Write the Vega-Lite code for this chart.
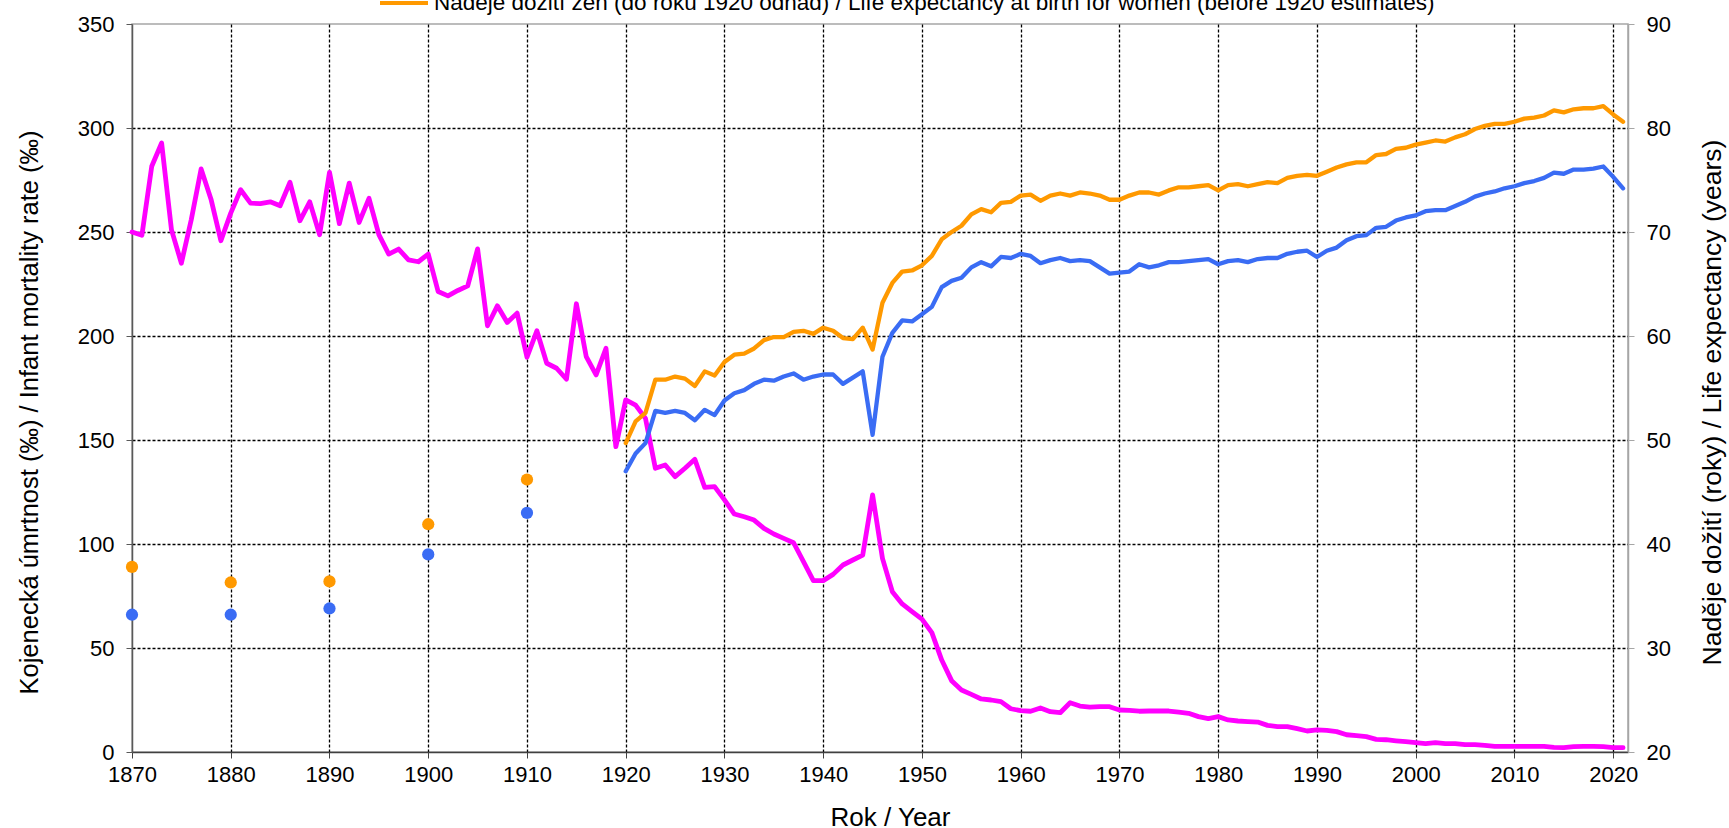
{
  "$schema": "https://vega.github.io/schema/vega-lite/v6.json",
  "width": 1496,
  "height": 728,
  "autosize": {"type": "none"},
  "padding": {"left": 132, "top": 24, "right": 101, "bottom": 76},
  "background": "white",
  "config": {
    "font": "Liberation Sans",
    "view": {"stroke": "#a6a6a6", "strokeWidth": 1.5},
    "axis": {"labelFont": "Liberation Sans", "titleFont": "Liberation Sans", "labelColor": "#000000", "titleColor": "#000000", "labelFontSize": 22, "titleFontSize": 26, "titleFontWeight": "normal", "tickSize": 6},
    "legend": {"labelFont": "Liberation Sans", "labelFontSize": 22.5, "labelColor": "#000000", "labelLimit": 0}
  },
  "datasets": {
    "imr": [
      {"year":1870,"v":250},{"year":1871,"v":248.4},{"year":1872,"v":281.6},{"year":1873,"v":292.8},{"year":1874,"v":251},{"year":1875,"v":235},{"year":1876,"v":255.9},{"year":1877,"v":280.3},{"year":1878,"v":265.8},{"year":1879,"v":245.8},
      {"year":1880,"v":259.1},{"year":1881,"v":270.3},{"year":1882,"v":263.9},{"year":1883,"v":263.6},{"year":1884,"v":264.5},{"year":1885,"v":262.6},{"year":1886,"v":273.9},{"year":1887,"v":255.4},{"year":1888,"v":264.5},{"year":1889,"v":248.7},
      {"year":1890,"v":278.7},{"year":1891,"v":254},{"year":1892,"v":273.5},{"year":1893,"v":254.6},{"year":1894,"v":266.2},{"year":1895,"v":248.7},{"year":1896,"v":239.4},{"year":1897,"v":241.8},{"year":1898,"v":236.6},{"year":1899,"v":235.7},
      {"year":1900,"v":239.4},{"year":1901,"v":221.4},{"year":1902,"v":219.3},{"year":1903,"v":221.9},{"year":1904,"v":224.1},{"year":1905,"v":241.9},{"year":1906,"v":204.9},{"year":1907,"v":214.5},{"year":1908,"v":206.5},{"year":1909,"v":211},
      {"year":1910,"v":189.8},{"year":1911,"v":202.5},{"year":1912,"v":186.9},{"year":1913,"v":184.5},{"year":1914,"v":179.2},{"year":1915,"v":215.5},{"year":1916,"v":190.1},{"year":1917,"v":181.3},{"year":1918,"v":194.1},{"year":1919,"v":146.8},
      {"year":1920,"v":169.3},{"year":1921,"v":166.8},{"year":1922,"v":160.4},{"year":1923,"v":136.4},{"year":1924,"v":138.0},{"year":1925,"v":132.4},{"year":1926,"v":136.4},{"year":1927,"v":140.7},{"year":1928,"v":127.2},{"year":1929,"v":127.6},
      {"year":1930,"v":121.2},{"year":1931,"v":114.4},{"year":1932,"v":113.1},{"year":1933,"v":111.5},{"year":1934,"v":107.5},{"year":1935,"v":104.8},{"year":1936,"v":102.7},{"year":1937,"v":100.6},{"year":1938,"v":91.5},{"year":1939,"v":82.4},
      {"year":1940,"v":82.4},{"year":1941,"v":85.4},{"year":1942,"v":89.9},{"year":1943,"v":92.3},{"year":1944,"v":94.7},{"year":1945,"v":123.6},{"year":1946,"v":93.1},{"year":1947,"v":77.1},{"year":1948,"v":71.2},{"year":1949,"v":67.5},
      {"year":1950,"v":63.9},{"year":1951,"v":57.4},{"year":1952,"v":44.2},{"year":1953,"v":34.3},{"year":1954,"v":29.8},{"year":1955,"v":27.7},{"year":1956,"v":25.5},{"year":1957,"v":25.0},{"year":1958,"v":24.2},{"year":1959,"v":20.8},
      {"year":1960,"v":19.9},{"year":1961,"v":19.6},{"year":1962,"v":21.2},{"year":1963,"v":19.4},{"year":1964,"v":18.9},{"year":1965,"v":23.7},{"year":1966,"v":22.1},{"year":1967,"v":21.6},{"year":1968,"v":21.8},{"year":1969,"v":21.8},
      {"year":1970,"v":20.2},{"year":1971,"v":20.0},{"year":1972,"v":19.6},{"year":1973,"v":19.7},{"year":1974,"v":19.7},{"year":1975,"v":19.7},{"year":1976,"v":19.2},{"year":1977,"v":18.6},{"year":1978,"v":17.0},{"year":1979,"v":16.0},
      {"year":1980,"v":17.0},{"year":1981,"v":15.4},{"year":1982,"v":14.9},{"year":1983,"v":14.6},{"year":1984,"v":14.4},{"year":1985,"v":12.8},{"year":1986,"v":12.2},{"year":1987,"v":12.2},{"year":1988,"v":11.2},{"year":1989,"v":10.1},
      {"year":1990,"v":10.6},{"year":1991,"v":10.4},{"year":1992,"v":9.8},{"year":1993,"v":8.3},{"year":1994,"v":7.9},{"year":1995,"v":7.4},{"year":1996,"v":6.1},{"year":1997,"v":5.9},{"year":1998,"v":5.4},{"year":1999,"v":5.0},
      {"year":2000,"v":4.5},{"year":2001,"v":4.0},{"year":2002,"v":4.5},{"year":2003,"v":4.0},{"year":2004,"v":4.0},{"year":2005,"v":3.5},{"year":2006,"v":3.5},{"year":2007,"v":3.2},{"year":2008,"v":2.7},{"year":2009,"v":2.7},
      {"year":2010,"v":2.7},{"year":2011,"v":2.7},{"year":2012,"v":2.7},{"year":2013,"v":2.7},{"year":2014,"v":2.2},{"year":2015,"v":2.1},{"year":2016,"v":2.6},{"year":2017,"v":2.7},{"year":2018,"v":2.7},{"year":2019,"v":2.6},
      {"year":2020,"v":2.1},{"year":2021,"v":2.1}
    ],
    "le": [
      {"year":1920,"m":47.0,"f":49.7},{"year":1921,"m":48.7,"f":51.8},{"year":1922,"m":49.7,"f":52.6},{"year":1923,"m":52.8,"f":55.8},{"year":1924,"m":52.6,"f":55.8},{"year":1925,"m":52.8,"f":56.1},{"year":1926,"m":52.6,"f":55.9},{"year":1927,"m":51.9,"f":55.2},{"year":1928,"m":52.9,"f":56.6},{"year":1929,"m":52.4,"f":56.2},
      {"year":1930,"m":53.8,"f":57.5},{"year":1931,"m":54.5,"f":58.2},{"year":1932,"m":54.8,"f":58.3},{"year":1933,"m":55.4,"f":58.8},{"year":1934,"m":55.8,"f":59.6},{"year":1935,"m":55.7,"f":59.9},{"year":1936,"m":56.1,"f":59.9},{"year":1937,"m":56.4,"f":60.4},{"year":1938,"m":55.8,"f":60.5},{"year":1939,"m":56.1,"f":60.2},
      {"year":1940,"m":56.3,"f":60.8},{"year":1941,"m":56.3,"f":60.5},{"year":1942,"m":55.4,"f":59.8},{"year":1943,"m":56.0,"f":59.7},{"year":1944,"m":56.6,"f":60.8},{"year":1945,"m":50.5,"f":58.7},{"year":1946,"m":58.0,"f":63.2},{"year":1947,"m":60.3,"f":65.1},{"year":1948,"m":61.5,"f":66.2},{"year":1949,"m":61.4,"f":66.3},
      {"year":1950,"m":62.1,"f":66.8},{"year":1951,"m":62.8,"f":67.7},{"year":1952,"m":64.7,"f":69.3},{"year":1953,"m":65.3,"f":70.0},{"year":1954,"m":65.6,"f":70.6},{"year":1955,"m":66.6,"f":71.7},{"year":1956,"m":67.1,"f":72.2},{"year":1957,"m":66.7,"f":71.9},{"year":1958,"m":67.6,"f":72.8},{"year":1959,"m":67.5,"f":72.9},
      {"year":1960,"m":67.9,"f":73.5},{"year":1961,"m":67.7,"f":73.6},{"year":1962,"m":67.0,"f":73.0},{"year":1963,"m":67.3,"f":73.5},{"year":1964,"m":67.5,"f":73.7},{"year":1965,"m":67.2,"f":73.5},{"year":1966,"m":67.3,"f":73.8},{"year":1967,"m":67.2,"f":73.7},{"year":1968,"m":66.6,"f":73.5},{"year":1969,"m":66.0,"f":73.1},
      {"year":1970,"m":66.1,"f":73.1},{"year":1971,"m":66.2,"f":73.5},{"year":1972,"m":66.9,"f":73.8},{"year":1973,"m":66.6,"f":73.8},{"year":1974,"m":66.8,"f":73.6},{"year":1975,"m":67.1,"f":74.0},{"year":1976,"m":67.1,"f":74.3},{"year":1977,"m":67.2,"f":74.3},{"year":1978,"m":67.3,"f":74.4},{"year":1979,"m":67.4,"f":74.5},
      {"year":1980,"m":66.9,"f":74.0},{"year":1981,"m":67.2,"f":74.5},{"year":1982,"m":67.3,"f":74.6},{"year":1983,"m":67.1,"f":74.4},{"year":1984,"m":67.4,"f":74.6},{"year":1985,"m":67.5,"f":74.8},{"year":1986,"m":67.5,"f":74.7},{"year":1987,"m":67.9,"f":75.2},{"year":1988,"m":68.1,"f":75.4},{"year":1989,"m":68.2,"f":75.5},
      {"year":1990,"m":67.6,"f":75.4},{"year":1991,"m":68.2,"f":75.8},{"year":1992,"m":68.5,"f":76.2},{"year":1993,"m":69.2,"f":76.5},{"year":1994,"m":69.6,"f":76.7},{"year":1995,"m":69.7,"f":76.7},{"year":1996,"m":70.4,"f":77.4},{"year":1997,"m":70.5,"f":77.5},{"year":1998,"m":71.1,"f":78.0},{"year":1999,"m":71.4,"f":78.1},
      {"year":2000,"m":71.6,"f":78.4},{"year":2001,"m":72.0,"f":78.6},{"year":2002,"m":72.1,"f":78.8},{"year":2003,"m":72.1,"f":78.7},{"year":2004,"m":72.5,"f":79.1},{"year":2005,"m":72.9,"f":79.4},{"year":2006,"m":73.4,"f":79.9},{"year":2007,"m":73.7,"f":80.2},{"year":2008,"m":73.9,"f":80.4},{"year":2009,"m":74.2,"f":80.4},
      {"year":2010,"m":74.4,"f":80.6},{"year":2011,"m":74.7,"f":80.9},{"year":2012,"m":74.9,"f":81.0},{"year":2013,"m":75.2,"f":81.2},{"year":2014,"m":75.7,"f":81.7},{"year":2015,"m":75.6,"f":81.5},{"year":2016,"m":76.0,"f":81.8},{"year":2017,"m":76.0,"f":81.9},{"year":2018,"m":76.1,"f":81.9},{"year":2019,"m":76.3,"f":82.1},
      {"year":2020,"m":75.3,"f":81.3},{"year":2021,"m":74.2,"f":80.6}
    ],
    "est": [
      {"year":1870,"m":33.2,"f":37.8},{"year":1880,"m":33.2,"f":36.3},{"year":1890,"m":33.8,"f":36.4},{"year":1900,"m":39.0,"f":41.9},{"year":1910,"m":43.0,"f":46.2}
    ]
  },
  "encoding": {
    "x": {
      "field": "year", "type": "quantitative",
      "scale": {"domain": [1870, 2021.5], "nice": false, "zero": false},
      "axis": {
        "values": [1870,1880,1890,1900,1910,1920,1930,1940,1950,1960,1970,1980,1990,2000,2010,2020],
        "format": "d", "title": "Rok / Year", "titleX": 758, "titlePadding": 19, "labelPadding": 6,
        "grid": true, "gridColor": "#000000", "gridDash": [3, 2], "gridWidth": 1.3,
        "gridOpacity": {"condition": {"test": "datum.value == 1870", "value": 0}, "value": 1},
        "domainColor": "#404040", "domainWidth": 1.5, "tickColor": "#404040", "labelFlush": false
      }
    }
  },
  "layer": [
    {
      "data": {"name": "imr"},
      "mark": {"type": "line", "strokeWidth": 4.8, "strokeJoin": "round", "strokeCap": "round"},
      "encoding": {
        "y": {
          "field": "v", "type": "quantitative",
          "scale": {"domain": [0, 350], "nice": false},
          "axis": {
            "orient": "left", "values": [0,50,100,150,200,250,300,350],
            "title": "Kojenecká úmrtnost (‰) / Infant mortality rate (‰)", "titleFontSize": 25.5,
            "titleY": 388, "titlePadding": 35, "labelPadding": 12,
            "grid": true, "gridColor": "#000000", "gridDash": [3, 2], "gridWidth": 1.3,
            "gridOpacity": {"condition": {"test": "datum.value == 0 || datum.value == 350", "value": 0}, "value": 1},
            "domainColor": "#595959", "domainWidth": 1.5, "tickColor": "#595959"
          }
        },
        "color": {
          "datum": "imr", "type": "nominal",
          "scale": {"domain": ["imr", "m", "f"], "range": ["#ff00ff", "#3a6cf4", "#ff9900"]},
          "legend": {
            "orient": "none", "legendX": 246, "legendY": -78, "direction": "vertical", "title": null,
            "padding": 0, "rowPadding": 0, "clipHeight": 22,
            "symbolType": "stroke", "symbolStrokeWidth": 4, "symbolSize": 2304, "labelOffset": 4,
            "labelExpr": "datum.label == 'imr' ? 'Kojenecká úmrtnost / Infant mortality rate' : datum.label == 'm' ? 'Naděje dožití mužů (do roku 1920 odhad) / Life expectancy at birth for men (before 1920 estimates)' : 'Naděje dožití žen (do roku 1920 odhad) / Life expectancy at birth for women (before 1920 estimates)'"
          }
        }
      }
    },
    {
      "encoding": {
        "y": {
          "field": "v", "type": "quantitative",
          "scale": {"domain": [20, 90], "nice": false, "zero": false},
          "axis": {
            "orient": "right", "values": [20,30,40,50,60,70,80,90],
            "title": "Naděje dožití (roky) / Life expectancy (years)", "titleFontSize": 26.5,
            "titleAngle": -90, "titleBaseline": "bottom", "titleY": 378, "titlePadding": 56, "labelPadding": 12,
            "grid": false, "domainColor": "#a6a6a6", "domainWidth": 1.5, "tickColor": "#a6a6a6"
          }
        },
        "color": {
          "field": "s", "type": "nominal",
          "scale": {"domain": ["imr", "m", "f"], "range": ["#ff00ff", "#3a6cf4", "#ff9900"]},
          "legend": {
            "orient": "none", "legendX": 246, "legendY": -78, "direction": "vertical", "title": null,
            "padding": 0, "rowPadding": 0, "clipHeight": 22,
            "symbolType": "stroke", "symbolStrokeWidth": 4, "symbolSize": 2304, "labelOffset": 4,
            "labelExpr": "datum.label == 'imr' ? 'Kojenecká úmrtnost / Infant mortality rate' : datum.label == 'm' ? 'Naděje dožití mužů (do roku 1920 odhad) / Life expectancy at birth for men (before 1920 estimates)' : 'Naděje dožití žen (do roku 1920 odhad) / Life expectancy at birth for women (before 1920 estimates)'"
          }
        }
      },
      "layer": [
        {
          "data": {"name": "le"},
          "transform": [{"fold": ["m", "f"], "as": ["s", "v"]}],
          "mark": {"type": "line", "strokeWidth": 4.3, "strokeJoin": "round", "strokeCap": "round"}
        },
        {
          "data": {"name": "est"},
          "transform": [{"fold": ["m", "f"], "as": ["s", "v"]}],
          "mark": {"type": "circle", "size": 150, "opacity": 1}
        }
      ]
    }
  ],
  "resolve": {"scale": {"y": "independent"}}
}
